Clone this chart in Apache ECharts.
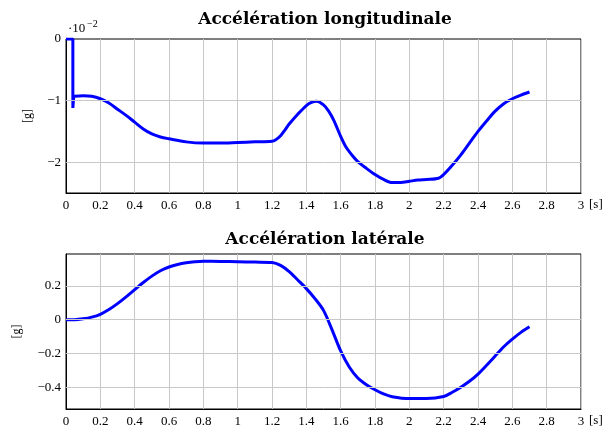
<!DOCTYPE html>
<html>
<head>
<meta charset="utf-8">
<script src="https://cdn.jsdelivr.net/npm/echarts@6/dist/echarts.min.js"></script>
<style>
  html, body { margin: 0; padding: 0; background: #fff; }
  #chart { width: 606px; height: 428px; }
</style>
</head>
<body>
<div id="chart"></div>
<script>
// Accélération longitudinale (valeurs en 1e-2 g)
const tLon = [0, 0.04, 0.04, 0.045, 0.1, 0.15, 0.2, 0.25, 0.3, 0.35, 0.4, 0.45, 0.5, 0.55, 0.6, 0.7, 0.8, 0.9, 1.0, 1.1, 1.2,
  1.22, 1.25, 1.275, 1.3, 1.35, 1.4, 1.43, 1.46, 1.5, 1.53, 1.56, 1.6, 1.63, 1.67, 1.7, 1.75, 1.8, 1.85, 1.9, 1.95, 2.0, 2.05, 2.1,
  2.17, 2.2, 2.25, 2.3, 2.35, 2.4, 2.45, 2.5, 2.55, 2.6, 2.65, 2.7]
const aLon = [0, 0, -1.12, -0.93, -0.92, -0.93, -0.97, -1.04, -1.14, -1.24, -1.35, -1.46, -1.54, -1.59, -1.62, -1.67, -1.69, -1.69, -1.68, -1.67, -1.66,
  -1.64, -1.57, -1.48, -1.38, -1.22, -1.08, -1.03, -1.01, -1.07, -1.17, -1.32, -1.58, -1.75, -1.9, -1.99, -2.1, -2.2, -2.28, -2.33, -2.33, -2.31, -2.29, -2.28,
  -2.26, -2.2, -2.05, -1.88, -1.69, -1.5, -1.33, -1.17, -1.05, -0.97, -0.91, -0.86]
// le saut initial (jusqu'à l'indice 3) est tracé sans lissage
const lonStep = 3

// Accélération latérale
const tLat = [0, 0.05, 0.1, 0.15, 0.2, 0.25, 0.3, 0.35, 0.4, 0.45, 0.5, 0.55, 0.6, 0.65, 0.7, 0.75, 0.8, 0.9, 1.0, 1.1, 1.2,
  1.25, 1.3, 1.35, 1.4, 1.45, 1.5, 1.55, 1.6, 1.65, 1.7, 1.75, 1.8, 1.85, 1.9, 2.0, 2.1, 2.2, 2.25, 2.3, 2.35, 2.4, 2.45,
  2.5, 2.55, 2.6, 2.65, 2.7]
const aLat = [0, 0, 0.005, 0.015, 0.032, 0.06, 0.095, 0.135, 0.178, 0.22, 0.258, 0.29, 0.312, 0.327, 0.337, 0.343, 0.346, 0.345, 0.343, 0.341, 0.339,
  0.322, 0.285, 0.235, 0.184, 0.125, 0.055, -0.06, -0.185, -0.28, -0.345, -0.385, -0.415, -0.44, -0.456, -0.467, -0.467, -0.455, -0.43, -0.4, -0.365, -0.322, -0.27,
  -0.215, -0.16, -0.115, -0.075, -0.042]

const yTicksLon = [-2, -1, 0]
const yTicksLat = [-0.4, -0.2, 0, 0.2]

const font = 'Liberation Serif'
const titleFont = 'DejaVu Serif'
const gridColor = '#c8c8c8'

const fmt = (v) => {
  const s = String(Math.round(Math.abs(v) * 100) / 100)
  return v < 0 ? '\u2212' + s : s
}

const pairs = (xs, ys) => xs.map((x, i) => [x, ys[i]])

// lignes horizontales de la grille aux graduations
const hLines = (ticks) => ({
  silent: true,
  symbol: 'none',
  label: { show: false },
  lineStyle: { color: gridColor, type: 'solid', width: 1 },
  data: ticks.map(v => ({ yAxis: v }))
})

const xAxisOf = (gridIndex) => ({
  type: 'value',
  gridIndex,
  min: 0,
  max: 3,
  interval: 0.2,
  name: '[s]',
  nameLocation: 'end',
  nameGap: 8,
  nameTextStyle: { fontFamily: font, fontSize: 13, color: '#000', verticalAlign: 'top', padding: [5, 0, 0, 0] },
  axisLine: { onZero: false, lineStyle: { color: '#000', width: 1 } },
  axisTick: { show: false },
  axisLabel: { fontFamily: font, fontSize: 13, color: '#000', margin: 6, formatter: fmt },
  splitLine: { show: true, lineStyle: { color: gridColor, width: 1 } }
})

const yAxisOf = (gridIndex, min, max, ticks, gap) => ({
  type: 'value',
  gridIndex,
  min,
  max,
  name: '[g]',
  nameLocation: 'middle',
  nameRotate: 90,
  nameGap: gap,
  nameTextStyle: { fontFamily: font, fontSize: 12, color: '#000' },
  axisLine: { show: true, onZero: false, lineStyle: { color: '#000', width: 1 } },
  axisTick: { show: false },
  axisLabel: { fontFamily: font, fontSize: 13, color: '#000', margin: 5, customValues: ticks, formatter: fmt },
  splitLine: { show: false }
})

const lineStyle = { color: '#0000ff', width: 3 }

const chart = echarts.init(document.getElementById('chart'), null, { renderer: 'canvas' })

chart.setOption({
  animation: false,
  backgroundColor: '#fff',
  title: [
    {
      text: 'Accélération longitudinale',
      left: 320, top: 6, textAlign: 'center',
      textStyle: { fontFamily: titleFont, fontSize: 17, fontWeight: 'bold', color: '#000' }
    },
    {
      text: 'Accélération latérale',
      left: 320, top: 226, textAlign: 'center',
      textStyle: { fontFamily: titleFont, fontSize: 17, fontWeight: 'bold', color: '#000' }
    }
  ],
  grid: [
    { left: 66, top: 39, width: 515, height: 154, show: true, borderColor: '#000', borderWidth: 1, containLabel: false },
    { left: 66, top: 254, width: 515, height: 156, show: true, borderColor: '#000', borderWidth: 1, containLabel: false }
  ],
  xAxis: [xAxisOf(0), xAxisOf(1)],
  yAxis: [yAxisOf(0, -2.5, 0, yTicksLon, 32), yAxisOf(1, -0.529, 0.389, yTicksLat, 43)],
  graphic: [
    { type: 'text', left: 68, top: 22, style: { text: '\u00b710', fontFamily: font, fontSize: 13, fill: '#000' } },
    { type: 'text', left: 87, top: 19, style: { text: '\u22122', fontFamily: font, fontSize: 10, fill: '#000' } }
  ],
  series: [
    {
      type: 'line',
      xAxisIndex: 0,
      yAxisIndex: 0,
      data: pairs(tLon, aLon).slice(0, lonStep + 1),
      showSymbol: false,
      lineStyle,
      markLine: hLines([-2, -1])
    },
    {
      type: 'line',
      xAxisIndex: 0,
      yAxisIndex: 0,
      data: pairs(tLon, aLon).slice(lonStep),
      showSymbol: false,
      smooth: 0.3,
      lineStyle
    },
    {
      type: 'line',
      xAxisIndex: 1,
      yAxisIndex: 1,
      data: pairs(tLat, aLat),
      showSymbol: false,
      smooth: 0.3,
      lineStyle,
      markLine: hLines(yTicksLat)
    }
  ]
})

window.addEventListener('resize', () => chart.resize())
</script>
</body>
</html>
